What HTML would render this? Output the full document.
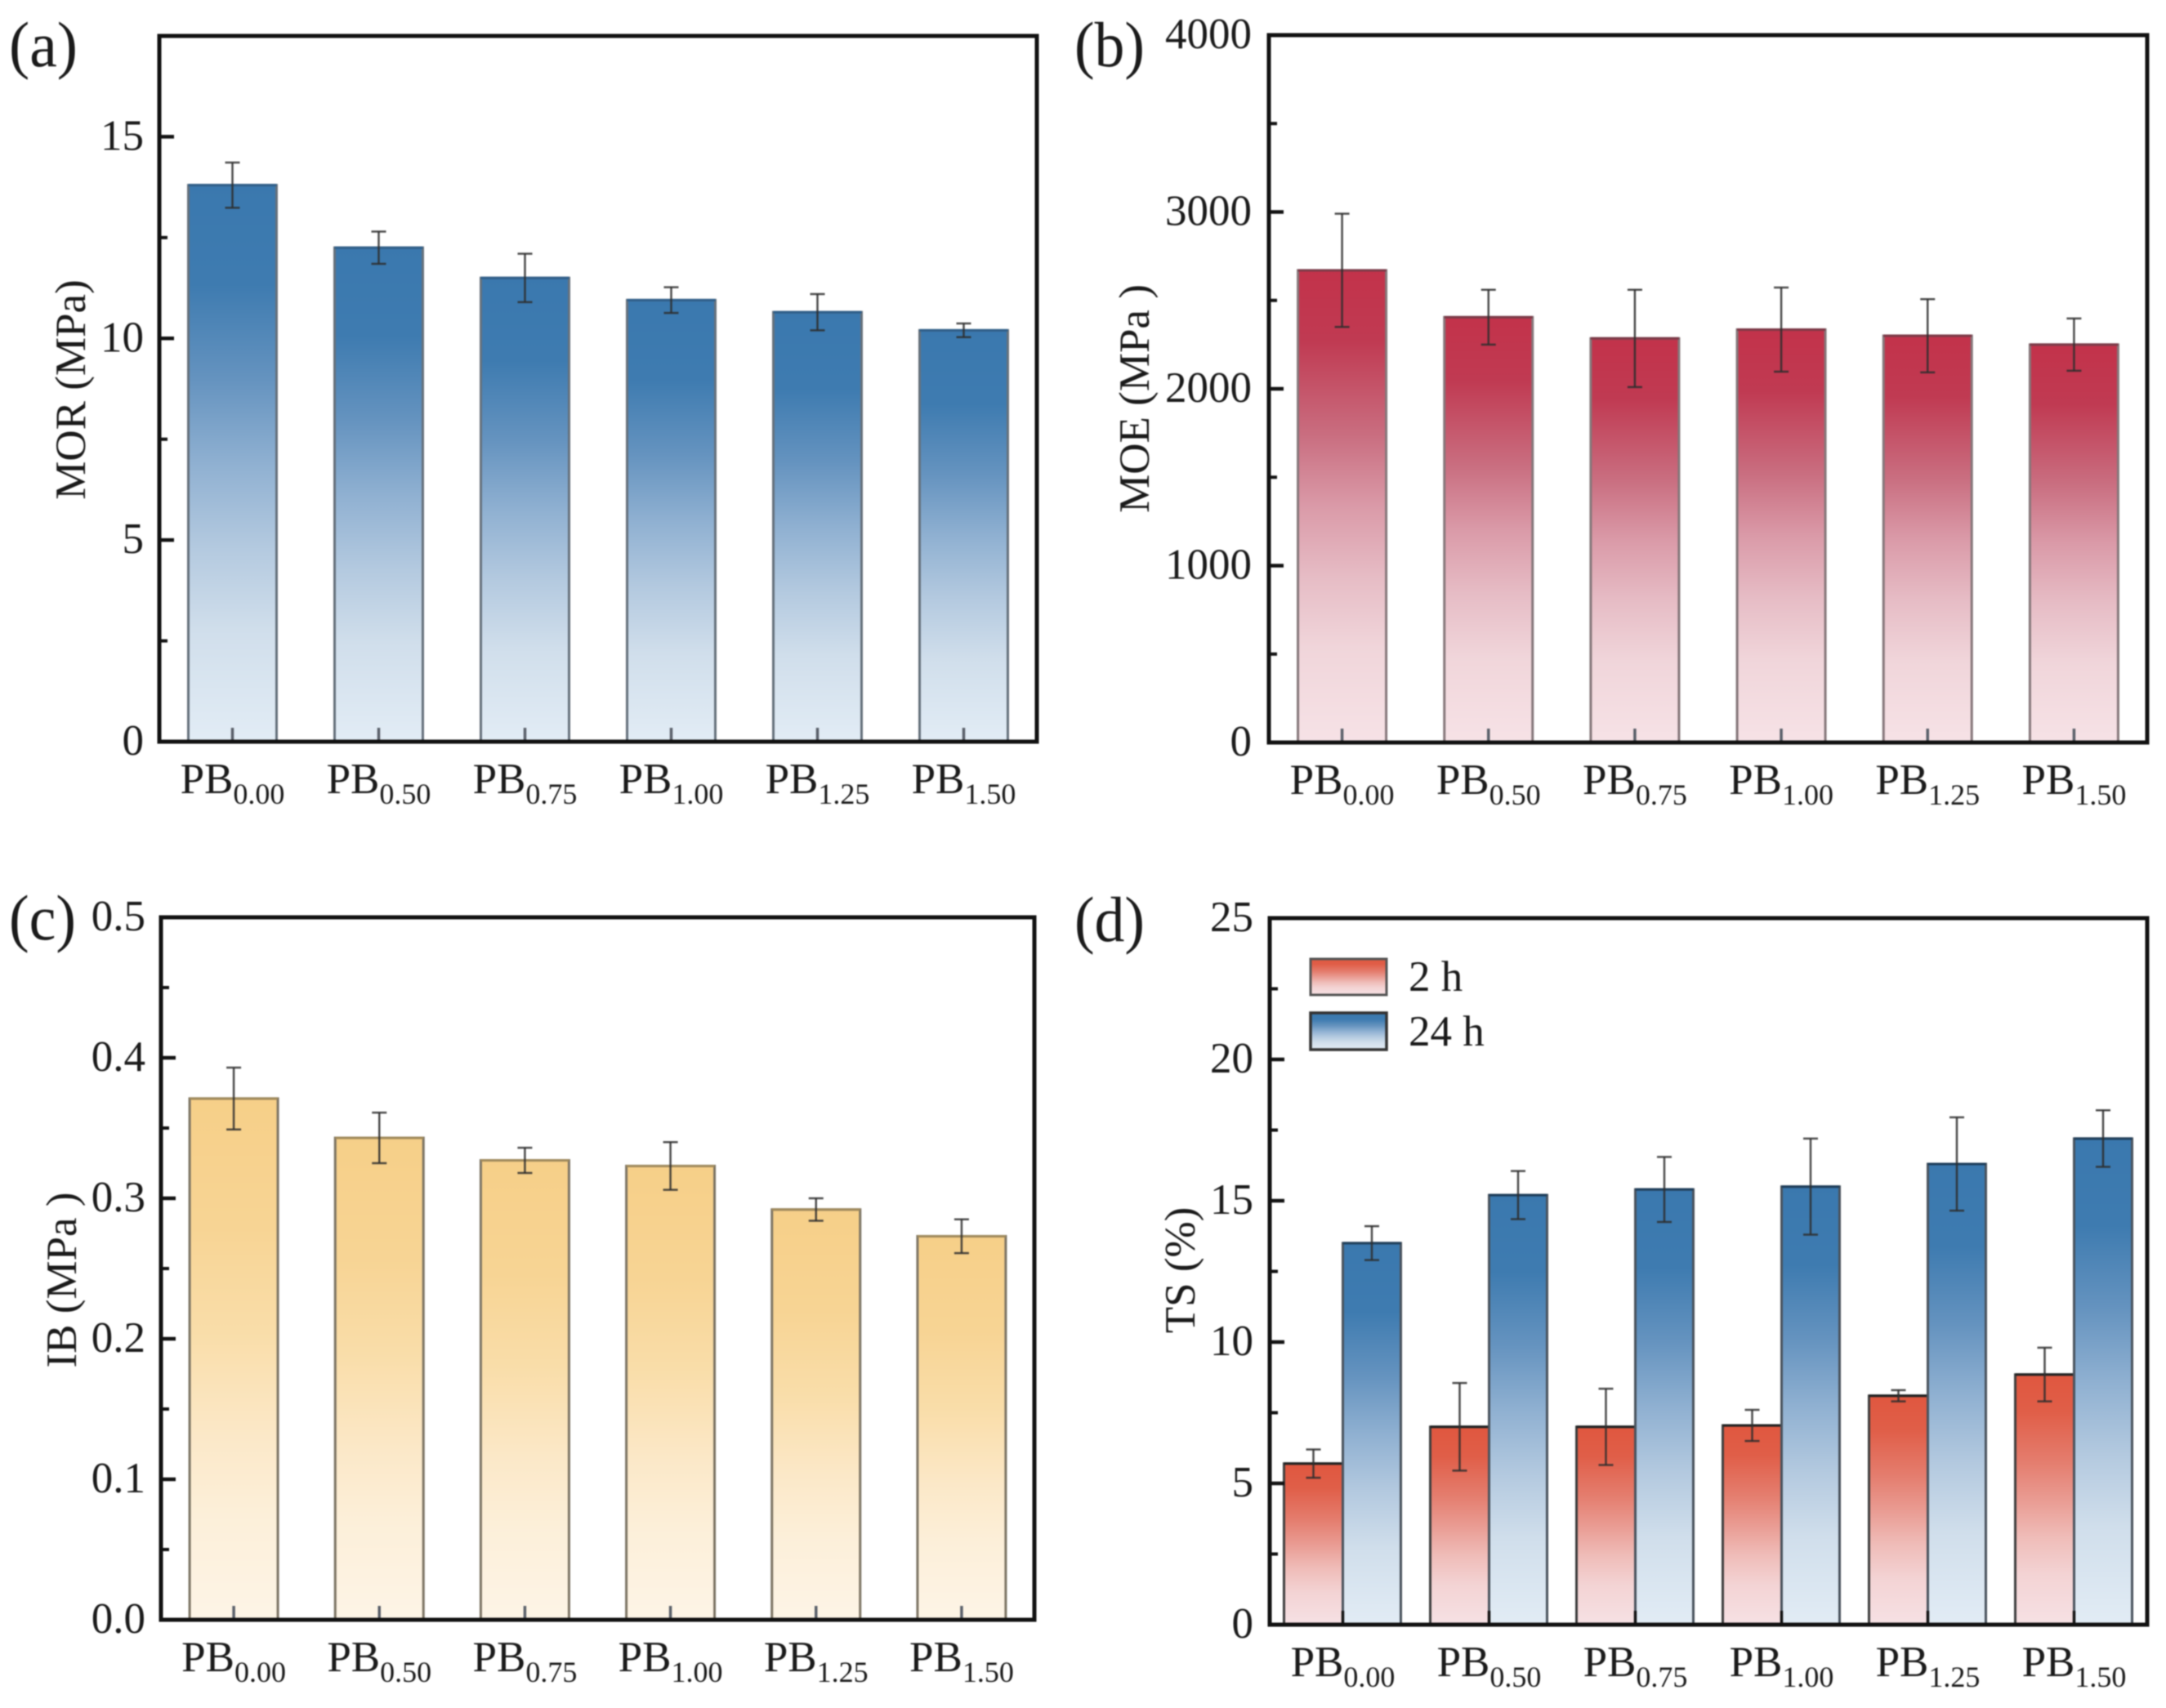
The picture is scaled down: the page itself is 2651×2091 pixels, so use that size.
<!DOCTYPE html>
<html lang="en">
<head>
<meta charset="utf-8">
<title>Mechanical properties and thickness swelling of PB panels</title>
<style>
html,body{margin:0;padding:0;background:#fff;}
body{width:2651px;height:2091px;overflow:hidden;}
svg{display:block;filter:blur(0.7px);}
text{font-family:"Liberation Serif",serif;fill:#1a1a1a;}
</style>
</head>
<body>
<svg id="figure" xmlns="http://www.w3.org/2000/svg" width="2651" height="2091" viewBox="0 0 2651 2091">
  <defs>
    <linearGradient id="gradBlue" x1="0" y1="0" x2="0" y2="1">
      <stop offset="0" stop-color="#3a78ae"/>
      <stop offset="0.18" stop-color="#3e7bb0"/>
      <stop offset="0.35" stop-color="#6593bf"/>
      <stop offset="0.5" stop-color="#8fb0d1"/>
      <stop offset="0.65" stop-color="#b3c9df"/>
      <stop offset="0.8" stop-color="#d0deeb"/>
      <stop offset="1" stop-color="#e2ecf5"/>
    </linearGradient>
    <linearGradient id="gradCrimson" x1="0" y1="0" x2="0" y2="1">
      <stop offset="0" stop-color="#c2324a"/>
      <stop offset="0.15" stop-color="#c03a52"/>
      <stop offset="0.35" stop-color="#c96e80"/>
      <stop offset="0.5" stop-color="#da9aa8"/>
      <stop offset="0.65" stop-color="#e6bcc5"/>
      <stop offset="0.8" stop-color="#f0d5da"/>
      <stop offset="1" stop-color="#f6e2e6"/>
    </linearGradient>
    <linearGradient id="gradOrange" x1="0" y1="0" x2="0" y2="1">
      <stop offset="0" stop-color="#f6cf88"/>
      <stop offset="0.25" stop-color="#f7d494"/>
      <stop offset="0.45" stop-color="#f9dda9"/>
      <stop offset="0.65" stop-color="#fbe8c8"/>
      <stop offset="0.8" stop-color="#fcefd9"/>
      <stop offset="1" stop-color="#fdf4e6"/>
    </linearGradient>
    <linearGradient id="gradRed" x1="0" y1="0" x2="0" y2="1">
      <stop offset="0" stop-color="#e0573f"/>
      <stop offset="0.15" stop-color="#e05e48"/>
      <stop offset="0.35" stop-color="#e47d6e"/>
      <stop offset="0.5" stop-color="#e99b92"/>
      <stop offset="0.65" stop-color="#efbcb8"/>
      <stop offset="0.8" stop-color="#f3d3d4"/>
      <stop offset="1" stop-color="#f6e1e4"/>
    </linearGradient>
  </defs>
</svg>
<script>
var categorySubs = ['0.00', '0.50', '0.75', '1.00', '1.25', '1.50'];

var morValues = [13.8, 12.25, 11.5, 10.95, 10.65, 10.2];
var morErrors = [0.56, 0.4, 0.6, 0.32, 0.45, 0.17];
var morTicks = ['0', '5', '10', '15'];

var moeValues = [2670, 2405, 2285, 2335, 2300, 2250];
var moeErrors = [320, 155, 275, 238, 207, 148];
var moeTicks = ['0', '1000', '2000', '3000', '4000'];

var ibValues = [0.371, 0.343, 0.327, 0.323, 0.292, 0.273];
var ibErrors = [0.022, 0.018, 0.009, 0.017, 0.008, 0.012];
var ibTicks = ['0.0', '0.1', '0.2', '0.3', '0.4', '0.5'];

var ts2hValues = [5.7, 7.0, 7.0, 7.05, 8.1, 8.85];
var ts2hErrors = [0.5, 1.55, 1.35, 0.55, 0.2, 0.95];
var ts24hValues = [13.5, 15.2, 15.4, 15.5, 16.3, 17.2];
var ts24hErrors = [0.6, 0.85, 1.15, 1.7, 1.65, 1.0];
var tsTicks = ['0', '5', '10', '15', '20', '25'];

var svgNS = 'http://www.w3.org/2000/svg';
var figure = document.getElementById('figure');

function make(parent, tag, attrs, content) {
  var node = document.createElementNS(svgNS, tag);
  for (var key in attrs) {
    node.setAttribute(key, attrs[key]);
  }
  if (content !== undefined) {
    node.textContent = content;
  }
  parent.appendChild(node);
  return node;
}

function drawBar(parent, frame, cx, width, value, error, fill, stroke, topStroke) {
  var yTop = frame.y(value);
  var bar = make(parent, 'rect', {x: cx - width / 2, y: yTop, width: width, height: frame.bottom - yTop, fill: 'url(#' + fill + ')', stroke: stroke, 'stroke-width': 3});
  
  

  var edge = make(parent, 'line', {x1: cx - width / 2, x2: cx + width / 2, y1: yTop, y2: yTop, stroke: topStroke, 'stroke-width': 3});
  
  

  var yHigh = frame.y(value + error);
  var yLow = frame.y(value - error);
  var stem = make(parent, 'line', {x1: cx, x2: cx, y1: yHigh, y2: yLow, stroke: '#2e2e2e', 'stroke-width': 2.5, 'stroke-opacity': 0.85});
  
  
  var capHigh = make(parent, 'line', {x1: cx - 9, x2: cx + 9, y1: yHigh, y2: yHigh, stroke: '#2e2e2e', 'stroke-width': 2.5, 'stroke-opacity': 0.85});
  
  
  var capLow = make(parent, 'line', {x1: cx - 9, x2: cx + 9, y1: yLow, y2: yLow, stroke: '#2e2e2e', 'stroke-width': 2.5, 'stroke-opacity': 0.85});
  
  
}

function drawAxes(parent, frame, yTickLabels, labelGap, tickColor) {
  var majorStep = parseFloat(yTickLabels[1]) - parseFloat(yTickLabels[0]);
  var n = Math.round(frame.yMax / (majorStep / 2));
  for (var k = 1; k < n; k++) {
    var v = k * majorStep / 2;
    var isMajor = k % 2 === 0;
    var ty = frame.y(v);
    var tick = make(parent, 'line', {x1: frame.left, x2: frame.left + (isMajor ? 18 : 10), y1: ty, y2: ty, stroke: '#111', 'stroke-width': isMajor ? 4.5 : 4});
    
    
  }
  yTickLabels.forEach(function (label) {
    var lbl = make(parent, 'text', {x: frame.left - labelGap, y: frame.y(parseFloat(label)) + 16, 'text-anchor': 'end', 'font-size': 53}, label);
    
    
  });
  categorySubs.forEach(function (sub, i) {
    var cx = frame.x(i);
    var tick = make(parent, 'line', {x1: cx, x2: cx, y1: frame.bottom, y2: frame.bottom - 17, stroke: tickColor, 'stroke-width': 3.5});
    
    
    var lbl = make(parent, 'text', {x: cx, y: frame.bottom + 63, 'text-anchor': 'middle', 'font-size': 53});
    
    
    make(lbl, 'tspan', {}, 'PB');
    make(lbl, 'tspan', {'font-size': 36, dy: 13}, sub);
  });
  var box = make(parent, 'rect', {x: frame.left, y: frame.top, width: frame.right - frame.left, height: frame.bottom - frame.top, fill: 'none', stroke: '#111', 'stroke-width': 5});
  
  
}

function makeFrame(left, right, top, bottom, yMax) {
  return {
    left: left, right: right, top: top, bottom: bottom, yMax: yMax,
    x: function (i) { return left + (i + 0.5) * (right - left) / categorySubs.length; },
    y: function (v) { return bottom - v / yMax * (bottom - top); }
  };
}

function drawTitles(parent, panelLabel, panelX, panelY, labelLength, yTitle, titleX, titleY) {
  var pl = make(parent, 'text', {x: panelX, y: panelY, 'font-size': 78, textLength: labelLength, lengthAdjust: 'spacingAndGlyphs'}, panelLabel);
  
  
  var yt = make(parent, 'text', {x: titleX, y: titleY, 'font-size': 53, 'text-anchor': 'middle', transform: 'rotate(-90 ' + titleX + ' ' + titleY + ')'}, yTitle);
  
  
}

function singlePanel(name, frame, values, errors, ticks, fill, stroke, topStroke, labelGap) {
  var g = make(figure, 'g', {});
  
  
  values.forEach(function (v, i) {
    drawBar(g, frame, frame.x(i), 108, v, errors[i], fill, stroke, topStroke);
  });
  drawAxes(g, frame, ticks, labelGap, '#5a606a');
  return g;
}

var gA = singlePanel('panel-a-mor', makeFrame(195, 1269, 44, 908, 17.5), morValues, morErrors, morTicks, 'gradBlue', '#66717c', '#2f5f8a', 19);
drawTitles(gA, '(a)', 11, 81, 84, 'MOR (MPa)', 104, 477);

var gB = singlePanel('panel-b-moe', makeFrame(1553, 2628, 43, 909, 4000), moeValues, moeErrors, moeTicks, 'gradCrimson', '#85777a', '#7d3a48', 21);
drawTitles(gB, '(b)', 1315, 81, 86, 'MOE (MPa )', 1406, 488);

var gC = singlePanel('panel-c-ib', makeFrame(197, 1266, 1123, 1983, 0.5), ibValues, ibErrors, ibTicks, 'gradOrange', '#7d7565', '#a08a5c', 19);
drawTitles(gC, '(c)', 11, 1150, 82, 'IB (MPa )', 93, 1567);

var frameD = makeFrame(1554, 2628, 1124, 1989, 25);
var gD = make(figure, 'g', {});


categorySubs.forEach(function (sub, i) {
  var cx = frameD.x(i);
  drawBar(gD, frameD, cx - 36, 72, ts2hValues[i], ts2hErrors[i], 'gradRed', '#3f3f3f', '#222');
  drawBar(gD, frameD, cx + 35.5, 71, ts24hValues[i], ts24hErrors[i], 'gradBlue', '#4a535d', '#1f3f5c');
});
drawAxes(gD, frameD, tsTicks, 20, '#111');
drawTitles(gD, '(d)', 1315, 1152, 86, 'TS (%)', 1462, 1555);

var legend = make(gD, 'g', {});


var swatchRed = make(legend, 'rect', {x: 1604, y: 1174, width: 93, height: 44, fill: 'url(#gradRed)', stroke: '#555', 'stroke-width': 3});


var labelRed = make(legend, 'text', {x: 1724, y: 1213, 'font-size': 53}, '2 h');


var swatchBlue = make(legend, 'rect', {x: 1604, y: 1240, width: 93, height: 45, fill: 'url(#gradBlue)', stroke: '#333', 'stroke-width': 3.5});


var labelBlue = make(legend, 'text', {x: 1724, y: 1280, 'font-size': 53}, '24 h');


</script>
</body>
</html>
